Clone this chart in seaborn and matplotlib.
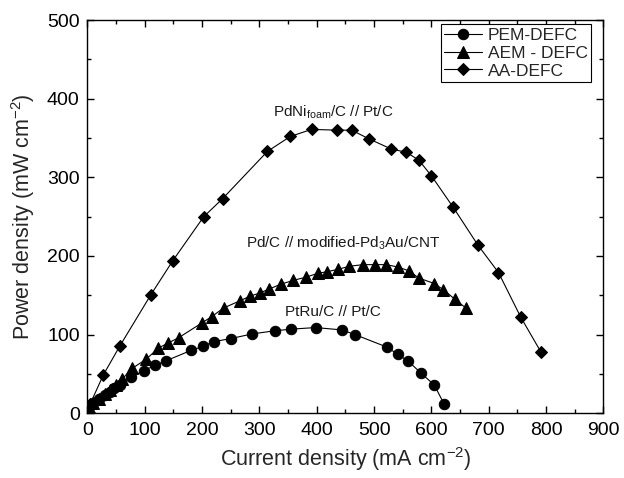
import matplotlib
matplotlib.use("Agg")
import matplotlib.pyplot as plt
import seaborn as sns
import numpy as np
import pandas as pd
from matplotlib.ticker import MultipleLocator

# ---- data ----
pem_x = [3, 10, 20, 30, 40, 47, 57, 76, 98, 118, 138, 181, 201, 220, 250, 288,
         328, 356, 398, 444, 467, 523, 541, 560, 582, 605, 622]
pem_y = [9, 13, 18, 23, 27, 32, 36, 46, 54, 61, 67, 80, 85, 91, 95, 101,
         105, 107, 109, 106, 100, 84, 75, 66, 51, 36, 12]

aem_x = [3, 10, 20, 30, 40, 50, 60, 78, 103, 124, 140, 159, 200, 217, 238,
         266, 284, 301, 317, 337, 359, 381, 402, 418, 437, 457, 481, 502, 521,
         542, 561, 578, 605, 621, 641, 660]
aem_y = [8, 13, 18, 24, 30, 36, 43, 57, 69, 83, 89, 96, 115, 123, 134,
         143, 149, 153, 158, 164, 169, 173, 178, 180, 183, 187, 189, 189, 189,
         186, 181, 172, 165, 157, 145, 134]

aa_x = [5, 28, 57, 111, 149, 203, 236, 314, 354, 391, 436, 461, 491, 530, 556,
        578, 600, 638, 681, 717, 756, 791]
aa_y = [12, 49, 86, 151, 194, 250, 273, 333, 352, 361, 360, 360, 349, 336, 332,
        322, 302, 262, 214, 179, 122, 78]

series_names = ["PEM-DEFC", "AEM - DEFC", "AA-DEFC"]
x_ticks = [0, 100, 200, 300, 400, 500, 600, 700, 800, 900]
y_ticks = [0, 100, 200, 300, 400, 500]

sns.set_style("ticks")
plt.rcParams['font.family'] = ['Liberation Sans', 'DejaVu Sans']
plt.rcParams['mathtext.fontset'] = 'custom'
plt.rcParams['mathtext.rm'] = 'Liberation Sans'
plt.rcParams['mathtext.it'] = 'Liberation Sans'

fig = plt.figure(figsize=(6.24, 4.78), dpi=100)
ax = fig.add_axes([0.14, 0.1354, 0.827, 0.8226])

markers = ["o", "^", "D"]
msizes = [7.5, 8, 6.3]
for (xs, ys), name, mk, ms in zip([(pem_x, pem_y), (aem_x, aem_y), (aa_x, aa_y)],
                                  series_names, markers, msizes):
    df = pd.DataFrame({"x": xs, "y": ys})
    sns.lineplot(data=df, x="x", y="y", ax=ax, sort=False, estimator=None,
                 color="black", linewidth=0.8, marker=mk, markersize=ms,
                 markeredgecolor="black", markerfacecolor="black", label=name)

ax.set_xlim(0, 900)
ax.set_ylim(0, 500)
ax.set_xticks(x_ticks)
ax.set_yticks(y_ticks)
ax.xaxis.set_minor_locator(MultipleLocator(50))
ax.yaxis.set_minor_locator(MultipleLocator(50))
ax.tick_params(which="both", direction="in", top=True, right=True,
               labeltop=False, labelright=False, width=1, colors="black",
               labelsize=14)
ax.tick_params(which="major", length=5)
ax.tick_params(which="minor", length=3)
ax.tick_params(axis="x", which="major", pad=6.5)
ax.tick_params(axis="y", which="major", pad=5.5)
for s in ax.spines.values():
    s.set_linewidth(1.0)
    s.set_color("black")

ax.set_xlabel("Current density (mA cm$^{\\mathregular{-2}}$)", fontsize=15.5, labelpad=4)
ax.set_ylabel("Power density (mW cm$^{\\mathregular{-2}}$)", fontsize=15.5, labelpad=7)

txtc = "#1a1a1a"
ax.text(323, 383, "PdNi$_{\\mathregular{foam}}$/C // Pt/C", fontsize=11,
        va="center", ha="left", color=txtc)
ax.text(276, 216, "Pd/C // modified-Pd$_{\\mathregular{3}}$Au/CNT", fontsize=11,
        va="center", ha="left", color=txtc)
ax.text(344, 129, "PtRu/C // Pt/C", fontsize=11, va="center", ha="left",
        color=txtc)

leg = ax.legend(loc="upper right", bbox_to_anchor=(0.976, 0.989),
                fontsize=12.5, frameon=True, fancybox=False,
                edgecolor="black", borderpad=0.2, labelspacing=0.15,
                handlelength=2.2, handletextpad=0.3, borderaxespad=0.0)
leg.get_frame().set_linewidth(0.8)
leg.get_frame().set_alpha(1)

fig.savefig("out.png", dpi=100)
